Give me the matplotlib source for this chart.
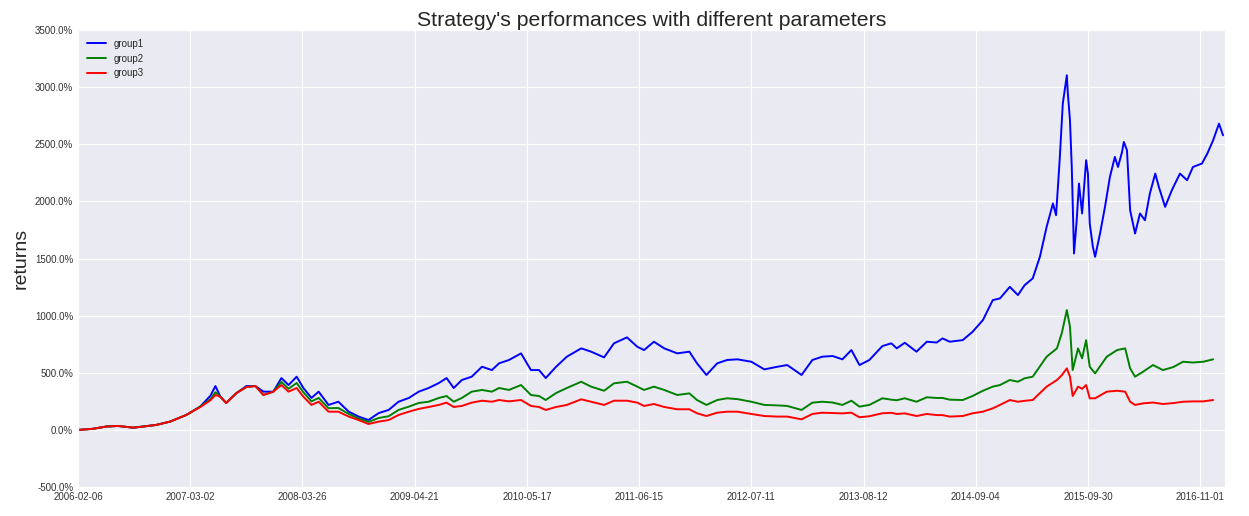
import matplotlib
matplotlib.use("Agg")
import matplotlib.pyplot as plt
import seaborn as sns
from matplotlib.ticker import FuncFormatter

sns.set_style("darkgrid")
plt.rcParams['font.family'] = ['Liberation Sans', 'DejaVu Sans']

# trading-day index of each reading (shared part, all three groups)
days = [0, 33, 63, 89, 123, 156, 174, 205, 241, 272,
        295, 306, 317, 330, 353, 375, 395, 413, 435, 453,
        469, 487, 502, 520, 536, 558, 580, 603, 625, 647,
        670, 692, 714, 737, 759, 781, 804, 821, 837, 855,
        877, 900, 922, 938, 960, 987, 1009, 1027, 1042, 1065,
        1089, 1121, 1143, 1172, 1194, 1223, 1246, 1261, 1283, 1306,
        1335, 1362, 1379, 1400, 1424, 1446, 1469, 1500, 1529, 1558,
        1580, 1612, 1636, 1658, 1681, 1703, 1723, 1741, 1763, 1792,
        1812, 1824, 1842, 1868, 1891, 1913, 1926, 1942, 1971, 1993,
        2016, 2038, 2054, 2076, 2094, 2109, 2127]

group1 = [0, 10, 30, 35, 20, 35, 44, 73, 131, 204,
          300, 384, 291, 236, 323, 384, 384, 335, 335, 454,
          393, 466, 367, 280, 335, 219, 247, 160, 117, 87,
          148, 175, 247, 280, 335, 367, 411, 454, 367, 437,
          466, 553, 524, 583, 612, 670, 524, 524, 454, 553,
          641, 714, 685, 635, 758, 810, 728, 699, 772, 714,
          670, 685, 583, 481, 583, 612, 618, 597, 530, 553,
          568, 481, 612, 641, 647, 618, 699, 568, 612, 734,
          758, 714, 763, 685, 772, 765, 801, 772, 786, 859,
          961, 1136, 1151, 1252, 1180, 1267, 1326]

group2 = [0, 10, 30, 35, 20, 35, 44, 73, 131, 204,
          270, 330, 291, 236, 323, 375, 384, 306, 335, 420,
          360, 411, 330, 250, 280, 190, 192, 140, 100, 70,
          105, 120, 175, 204, 236, 247, 280, 297, 247, 280,
          335, 350, 335, 367, 350, 393, 306, 297, 262, 323,
          367, 422, 379, 343, 408, 422, 379, 350, 379, 350,
          306, 320, 262, 219, 262, 277, 270, 247, 219, 215,
          210, 175, 239, 247, 240, 219, 256, 204, 219, 277,
          265, 260, 277, 247, 286, 280, 280, 265, 262, 297,
          343, 379, 393, 437, 422, 452, 466]

group3 = [0, 10, 30, 35, 20, 35, 44, 73, 131, 200,
          260, 306, 291, 236, 323, 375, 384, 306, 335, 393,
          335, 367, 291, 219, 247, 160, 160, 117, 87, 52,
          73, 87, 131, 160, 184, 201, 219, 239, 201, 210,
          239, 256, 247, 262, 250, 262, 210, 201, 175, 201,
          219, 268, 247, 219, 256, 256, 239, 210, 227, 201,
          181, 181, 146, 122, 151, 160, 160, 140, 122, 117,
          117, 93, 140, 151, 148, 145, 151, 111, 120, 146,
          150, 140, 145, 122, 140, 130, 130, 117, 122, 146,
          160, 189, 219, 262, 247, 255, 262]

# tails (2015 bubble and after)
days_g1_tail = [2143, 2158, 2172, 2179, 2187, 2194, 2203, 2205, 2210, 2214,
                2219, 2225, 2230, 2237, 2246, 2250, 2254, 2261, 2266, 2277,
                2288, 2299, 2310, 2317, 2326, 2330, 2337, 2344, 2355, 2366,
                2377, 2388, 2400, 2408, 2422, 2437, 2455, 2471, 2484, 2504,
                2516, 2529, 2542, 2551]
group1_tail = [1515, 1777, 1981, 1879, 2360, 2855, 3103, 2957, 2709, 2301,
               1544, 1835, 2156, 1894, 2360, 2243, 1807, 1602, 1515, 1719,
               1952, 2214, 2389, 2301, 2432, 2520, 2447, 1923, 1719, 1894,
               1835, 2069, 2243, 2127, 1952, 2098, 2243, 2185, 2301, 2331,
               2418, 2535, 2680, 2578]

days_g23_tail = [2158, 2181, 2192, 2203, 2210, 2216, 2228, 2237, 2246, 2254,
                 2266, 2292, 2315, 2333, 2344, 2355, 2373, 2395, 2417, 2440,
                 2462, 2484, 2507, 2529]
group2_tail = [641, 714, 850, 1049, 903, 524, 714, 627, 786, 553,
               495, 641, 699, 714, 539, 466, 510, 568, 524, 550,
               597, 590, 597, 618]
group3_tail = [379, 437, 480, 539, 466, 297, 379, 360, 393, 277,
               277, 335, 343, 335, 247, 219, 233, 240, 227, 235,
               247, 250, 250, 262]

tick_days = [0, 250, 500, 750, 1000, 1250, 1500, 1750, 2000, 2250, 2500]
tick_labels = ['2006-02-06', '2007-03-02', '2008-03-26', '2009-04-21',
               '2010-05-17', '2011-06-15', '2012-07-11', '2013-08-12',
               '2014-09-04', '2015-09-30', '2016-11-01']

fig = plt.figure(figsize=(12.49, 5.16), dpi=100)
ax = fig.add_axes([0.0625, 0.056, 0.9185, 0.886])

ax.plot(days + days_g1_tail, group1 + group1_tail, color='b', lw=1.4, label='group1')
ax.plot(days + days_g23_tail, group2 + group2_tail, color='g', lw=1.4, label='group2')
ax.plot(days + days_g23_tail, group3 + group3_tail, color='r', lw=1.4, label='group3')

ax.set_xlim(0, 2556)
ax.set_ylim(-500, 3500)
ax.set_yticks(range(-500, 3501, 500))
ax.yaxis.set_major_formatter(FuncFormatter(lambda v, p: f'{v:.1f}%'))
ax.set_xticks(tick_days)
ax.set_xticklabels(tick_labels)
ax.tick_params(labelsize=7, colors='#333333', length=0)

ax.set_ylabel('returns', fontsize=14)
ax.set_title("Strategy's performances with different parameters", fontsize=15.3,
             color='#262626', pad=3)
ax.legend(loc='upper left', fontsize=7, frameon=False)

plt.savefig('out.png', dpi=100)
